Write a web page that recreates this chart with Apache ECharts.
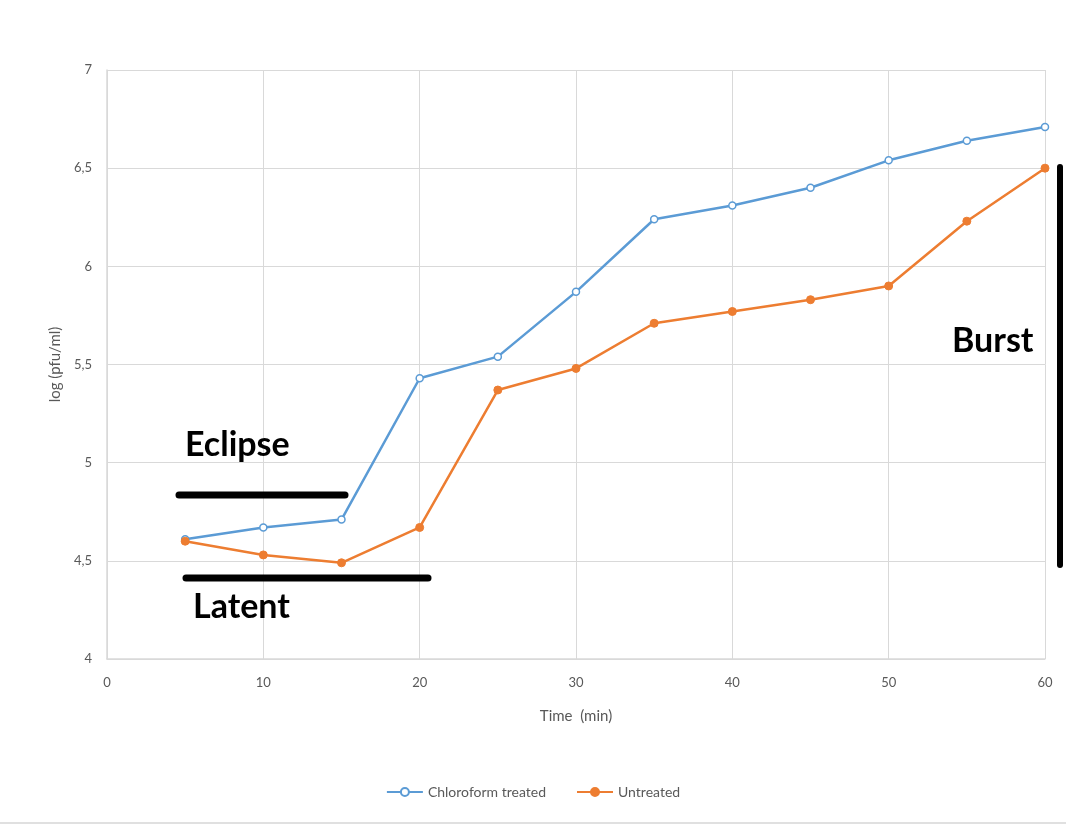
<!DOCTYPE html>
<html>
<head>
<meta charset="utf-8">
<script src="https://cdn.jsdelivr.net/npm/echarts@6/dist/echarts.min.js"></script>
<style>
html,body{margin:0;padding:0;background:#fff;}
#chart{width:1066px;height:837px;}
</style>
</head>
<body>
<div id="chart"></div>
<script>
var times = [5, 10, 15, 20, 25, 30, 35, 40, 45, 50, 55, 60];
var chloroform = [4.61, 4.67, 4.71, 5.43, 5.54, 5.87, 6.24, 6.31, 6.40, 6.54, 6.64, 6.71];
var untreated = [4.60, 4.53, 4.49, 4.67, 5.37, 5.48, 5.71, 5.77, 5.83, 5.90, 6.23, 6.50];
var seriesNames = ['Chloroform treated', 'Untreated'];
var xTitle = 'Time  (min)';
var yTitle = 'log (pfu/ml)';

function pairs(xs, ys){ return xs.map(function(x,i){ return [x, ys[i]]; }); }

var chart = echarts.init(document.getElementById('chart'));
var font = 'Lato, "Open Sans", sans-serif';
var bold = 'bold 34px Lato, "Open Sans", sans-serif';
chart.setOption({
  backgroundColor: '#fff',
  animation: false,
  grid: {left: 107, right: 21, top: 70, bottom: 178, containLabel: false},
  xAxis: {
    type: 'value', min: 0, max: 60, interval: 10,
    name: xTitle, nameLocation: 'middle', nameGap: 50,
    nameTextStyle: {color: '#595959', fontSize: 15, fontFamily: font},
    axisLine: {show: true, lineStyle: {color: '#d9d9d9', width: 1.5}},
    axisTick: {show: false},
    axisLabel: {color: '#595959', fontSize: 13, fontFamily: font, margin: 17},
    splitLine: {show: true, lineStyle: {color: '#d9d9d9', width: 1}}
  },
  yAxis: {
    type: 'value', min: 4, max: 7, interval: 0.5,
    name: yTitle, nameLocation: 'middle', nameGap: 44, nameRotate: 90,
    nameTextStyle: {color: '#595959', fontSize: 15, fontFamily: font},
    axisLine: {show: true, lineStyle: {color: '#d9d9d9', width: 1.5}},
    axisTick: {show: false},
    axisLabel: {color: '#595959', fontSize: 13, fontFamily: font, margin: 15,
      formatter: function(v){ return String(v).replace('.', ','); }},
    splitLine: {show: true, lineStyle: {color: '#d9d9d9', width: 1}}
  },
  legend: {
    bottom: 33, left: 'center', itemGap: 30, itemWidth: 36, itemHeight: 10,
    textStyle: {color: '#595959', fontSize: 14, fontFamily: font},
    data: seriesNames
  },
  series: [
    {
      name: seriesNames[0], type: 'line', data: pairs(times, chloroform),
      symbol: 'circle', symbolSize: 7, showAllSymbol: true,
      lineStyle: {color: '#5B9BD5', width: 2.5},
      itemStyle: {color: '#ffffff', borderColor: '#5B9BD5', borderWidth: 1.5}
    },
    {
      name: seriesNames[1], type: 'line', data: pairs(times, untreated),
      symbol: 'circle', symbolSize: 8, showAllSymbol: true,
      lineStyle: {color: '#ED7D31', width: 2.5},
      itemStyle: {color: '#ED7D31', borderColor: '#ED7D31', borderWidth: 1}
    }
  ],
  graphic: [
    {type: 'line', shape: {x1: 179, y1: 495, x2: 345, y2: 495}, style: {stroke: '#000', lineWidth: 7, lineCap: 'round'}, z: 10},
    {type: 'line', shape: {x1: 186, y1: 578, x2: 428, y2: 578}, style: {stroke: '#000', lineWidth: 7, lineCap: 'round'}, z: 10},
    {type: 'line', shape: {x1: 1060, y1: 167, x2: 1060, y2: 565}, style: {stroke: '#000', lineWidth: 6, lineCap: 'round'}, z: 10},
    {type: 'text', x: 185, y: 445, style: {text: 'Eclipse', fill: '#000', font: bold, textVerticalAlign: 'middle'}, z: 10},
    {type: 'text', x: 193, y: 607, style: {text: 'Latent', fill: '#000', font: bold, textVerticalAlign: 'middle'}, z: 10},
    {type: 'text', x: 952, y: 341, style: {text: 'Burst', fill: '#000', font: bold, textVerticalAlign: 'middle'}, z: 10},
    {type: 'line', shape: {x1: 0, y1: 823, x2: 1066, y2: 823}, style: {stroke: '#e0e0e0', lineWidth: 2}, z: 1}
  ]
});
</script>
</body>
</html>
